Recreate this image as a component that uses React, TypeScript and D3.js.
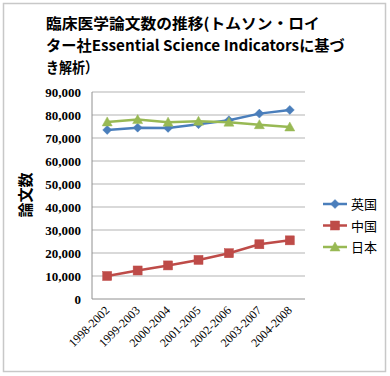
import React, { useEffect, useRef } from "react";
import * as d3 from "d3";

const categories = ["1998-2002", "1999-2003", "2000-2004", "2001-2005", "2002-2006", "2003-2007", "2004-2008"];
const ukValues = [73500, 74500, 74400, 76000, 77700, 80600, 82200];
const chinaValues = [10000, 12400, 14600, 17000, 19900, 23800, 25500];
const japanValues = [77000, 78000, 76900, 77300, 76900, 75800, 74800];
const yTicks = [0, 10000, 20000, 30000, 40000, 50000, 60000, 70000, 80000, 90000];
const titleLines = ["臨床医学論文数の推移(トムソン・ロイ", "ター社Essential Science Indicatorsに基づ", "き解析）"];
const titleWidths = [274, 299, 52];
const yAxisTitle = "論文数";

const series = [
  { name: "英国", values: ukValues, color: "#4A7EBB", marker: "diamond" },
  { name: "中国", values: chinaValues, color: "#BE4B48", marker: "square" },
  { name: "日本", values: japanValues, color: "#98B954", marker: "triangle" },
];

const W = 390, H = 376;
const plot = { left: 92, right: 305, top: 92, bottom: 299 };

function Marker({ type, x, y, color }: { type: string; x: number; y: number; color: string }) {
  if (type === "diamond") {
    const s = 4.5;
    return <path d={`M${x},${y - s}L${x + s},${y}L${x},${y + s}L${x - s},${y}Z`} fill={color} stroke={color} strokeWidth={0.5} />;
  }
  if (type === "square") {
    const s = 4.5;
    return <rect x={x - s} y={y - s} width={2 * s} height={2 * s} fill={color} stroke={color} strokeWidth={0.5} />;
  }
  const s = 5;
  return <path d={`M${x},${y - s}L${x + s},${y + s * 0.8}L${x - s},${y + s * 0.8}Z`} fill={color} stroke={color} strokeWidth={0.5} />;
}

export default function App() {
  const titleRef = useRef<SVGGElement>(null);
  const x = d3.scaleBand<string>().domain(categories).range([plot.left, plot.right]);
  const y = d3.scaleLinear().domain([0, 90000]).range([plot.bottom, plot.top]);
  const fmt = d3.format(",");
  const cx = (c: string) => (x(c) as number) + x.bandwidth() / 2;
  const line = d3.line<number>().x((_, i) => cx(categories[i])).y((v) => y(v));
  const titleY = (i: number) => 28.5 + i * 22;

  useEffect(() => {
    if (!titleRef.current) return;
    d3.select(titleRef.current).selectAll<SVGTextElement, unknown>("text").each(function (_, i) {
      const w = this.getBBox().width;
      const sx = w > 0 ? titleWidths[i] / w : 1;
      d3.select(this).attr("transform", `translate(46,${titleY(i)}) scale(${sx},1)`);
    });
  }, []);

  return (
    <svg width={W} height={H} style={{ position: "absolute", left: 0, top: 0, background: "#fff" }}>
      <rect x={3.5} y={3.5} width={382} height={368} fill="#fff" stroke="#c8c8c8" strokeWidth={1.5} />
      <g ref={titleRef} fontFamily="'Noto Sans CJK JP', sans-serif" fontWeight="bold" fontSize={15} fill="#000">
        {titleLines.map((t, i) => (
          <text key={i} transform={`translate(46,${titleY(i)})`}>{t}</text>
        ))}
      </g>
      {yTicks.map((t) => (
        <g key={t}>
          {t > 0 && <line x1={plot.left} x2={plot.right} y1={y(t)} y2={y(t)} stroke="#b3b3b3" strokeWidth={1} />}
          <text x={81} y={y(t) + 4.5} textAnchor="end" fontFamily="'Liberation Serif', serif" fontWeight="bold" fontSize={13}>{fmt(t)}</text>
        </g>
      ))}
      <line x1={plot.left} x2={plot.left} y1={plot.top} y2={plot.bottom} stroke="#909090" />
      <line x1={plot.left} x2={plot.right} y1={plot.bottom} y2={plot.bottom} stroke="#909090" />
      {categories.map((c) => (
        <text key={c} transform={`translate(${cx(c) + 3},${plot.bottom + 12}) rotate(-45)`} textAnchor="end"
          fontFamily="'Liberation Serif', serif" fontSize={12}>{c}</text>
      ))}
      <text transform={`translate(31,195) rotate(-90)`} textAnchor="middle" fontFamily="'Noto Sans CJK JP', sans-serif"
        fontWeight="bold" fontSize={15}>{yAxisTitle}</text>
      {series.map((s) => (
        <g key={s.name}>
          <path d={line(s.values) as string} fill="none" stroke={s.color} strokeWidth={2.5} />
          {s.values.map((v, i) => (
            <Marker key={i} type={s.marker} x={cx(categories[i])} y={y(v)} color={s.color} />
          ))}
        </g>
      ))}
      {series.map((s, i) => {
        const ly = 204 + i * 21.5;
        return (
          <g key={s.name}>
            <line x1={323} x2={347} y1={ly} y2={ly} stroke={s.color} strokeWidth={2.5} />
            <Marker type={s.marker} x={335} y={ly} color={s.color} />
            <text x={351} y={ly + 5} fontFamily="'Noto Sans CJK JP', sans-serif" fontSize={13}>{s.name}</text>
          </g>
        );
      })}
    </svg>
  );
}
